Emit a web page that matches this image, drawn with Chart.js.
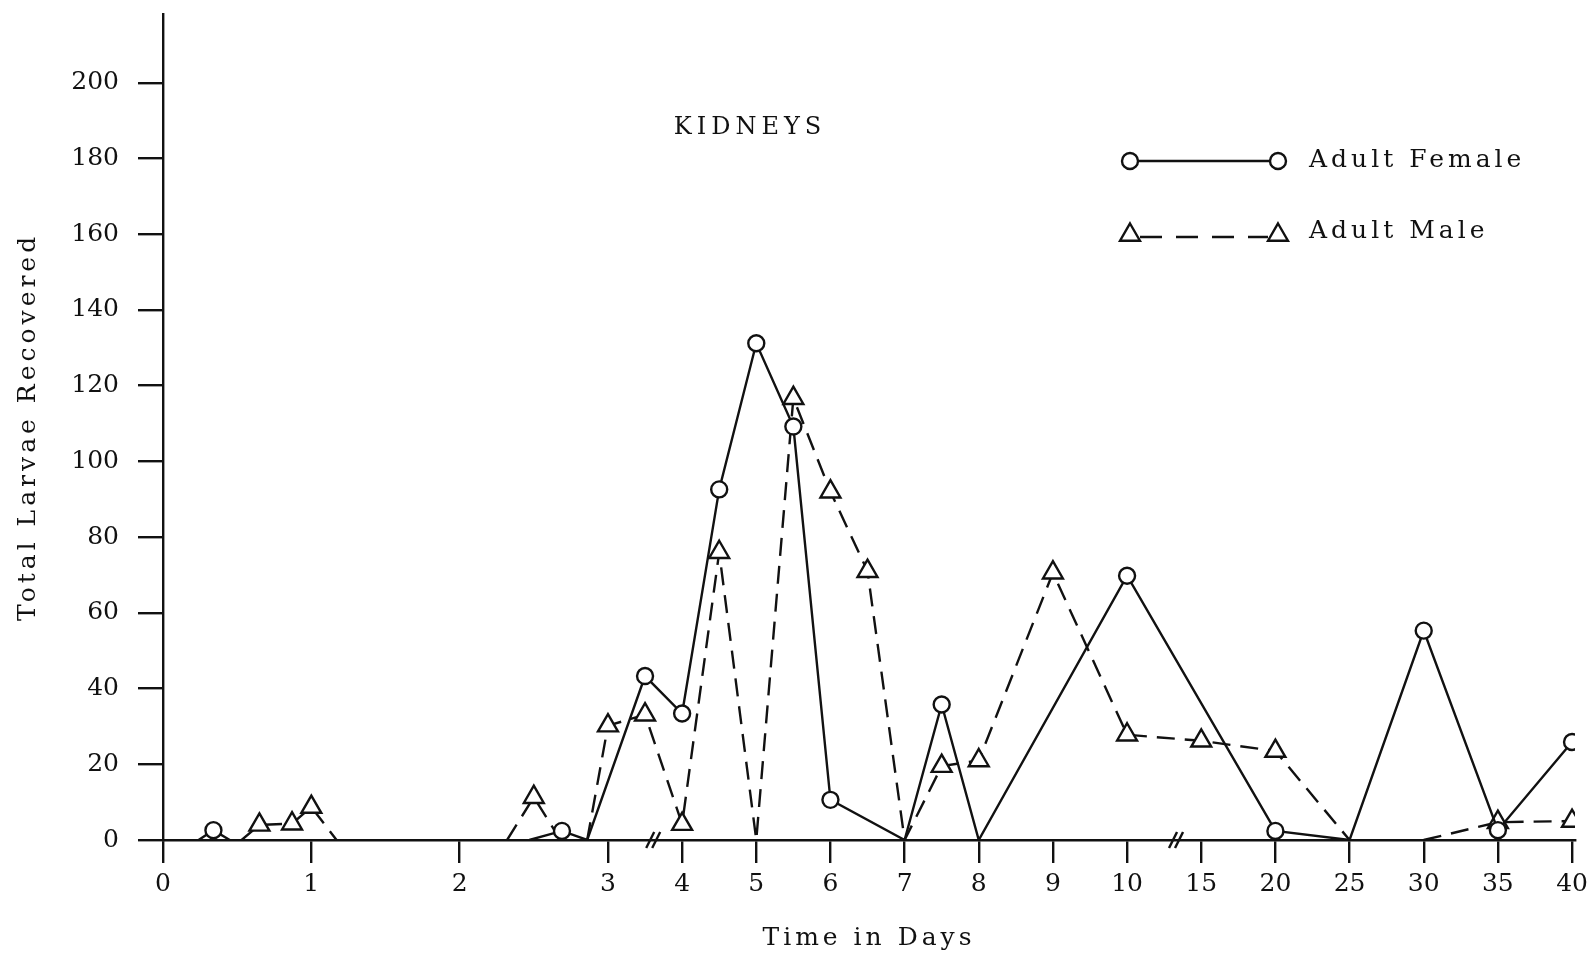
<!DOCTYPE html>
<html>
<head>
<meta charset="utf-8">
<script src="https://cdn.jsdelivr.net/npm/chart.js@4.4.1/dist/chart.umd.min.js"></script>
<style>
    html, body { margin: 0; padding: 0; background: #fff; }
    canvas { display: block; }
</style>
</head>
<body>
<canvas id="kidneyChart" width="1593" height="953"></canvas>
<script>
// x axis is broken: days 0-3 get two slots each, everything after gets one
const tickDays = [0, 1, 2, 3, 4, 5, 6, 7, 8, 9, 10, 15, 20, 25, 30, 35, 40];
const tickSlots = [0, 2, 4, 6, 7, 8, 9, 10, 11, 12, 13, 14, 15, 16, 17, 18, 19];
const yTicks = [0, 20, 40, 60, 80, 100, 120, 140, 160, 180, 200];
const breakSlots = [6.61, 13.66];

const femaleDays = [0.24, 0.34, 0.45, 2.47, 2.69, 2.86, 3.5, 4, 4.5, 5, 5.5, 6, 7, 7.5, 8, 10, 20, 25, 30, 35, 40];
const femaleCounts = [0, 2.6, 0, 0, 2.4, 0, 43.3, 33.4, 92.6, 131.2, 109.2, 10.6, 0, 35.8, 0, 69.8, 2.4, 0, 55.3, 2.6, 25.9];

const maleDays = [0.53, 0.65, 0.87, 1, 1.17, 2.32, 2.5, 2.68, 2.86, 3, 3.5, 4, 4.5, 5, 5.5, 6, 6.5, 7, 7.5, 8, 9, 10, 15, 20, 25, 30, 35, 40];
const maleCounts = [0, 4, 4.3, 8.7, 0, 0, 11.3, 0, 0, 30.2, 33.1, 4.2, 76, 0, 116.7, 92, 71, 0, 19.5, 21, 70.6, 27.8, 26.2, 23.5, 0, 0, 4.7, 5];

const ink = '#111';
const serif = '"DejaVu Serif", "Liberation Serif", serif';
const stroke = 2.4;

function dayToSlot(day) {
    for (let i = 1; i < tickDays.length; i++) {
        if (day <= tickDays[i]) {
            const f = (day - tickDays[i - 1]) / (tickDays[i] - tickDays[i - 1]);
            return tickSlots[i - 1] + f * (tickSlots[i] - tickSlots[i - 1]);
        }
    }
    return tickSlots[tickSlots.length - 1];
}

const toPoints = (days, counts) => days.map((d, i) => ({ x: dayToSlot(d), y: counts[i] }));

// zero readings are drawn without a marker, like the original
const markerSize = (size) => (c) => (c.raw && c.raw.y > 0 ? size : 0);

// runs along the baseline would just thicken the axis, so hide them
const hideBaseline = {
    borderColor: (c) => (c.p0.parsed.y === 0 && c.p1.parsed.y === 0 ? 'rgba(0,0,0,0)' : undefined)
};

const decorations = {
    id: 'decorations',
    beforeDraw(chart) {
        // typewriter-ish spacing for the axis titles only
        Object.values(chart.scales).forEach((s) => {
            if (s._spaced) return;
            const drawTitle = s.drawTitle;
            s.drawTitle = function () {
                this.ctx.letterSpacing = '4px';
                drawTitle.call(this);
                this.ctx.letterSpacing = '0px';
            };
            s._spaced = true;
        });
    },
    afterDraw(chart) {
        const c = chart.ctx;
        const xs = chart.scales.x;
        const ys = chart.scales.y;
        c.save();
        c.strokeStyle = ink;
        c.fillStyle = ink;
        c.lineWidth = stroke;

        // axis break marks
        const base = ys.getPixelForValue(0);
        breakSlots.forEach((s) => {
            const px = xs.getPixelForValue(s);
            [-3, 3].forEach((dx) => {
                c.beginPath();
                c.moveTo(px + dx - 4, base + 8);
                c.lineTo(px + dx + 4, base - 8);
                c.stroke();
            });
        });

        c.textBaseline = 'middle';
        c.textAlign = 'center';
        c.letterSpacing = '5px';
        c.font = '24px ' + serif;
        c.fillText('KIDNEYS', 750, 128);

        // legend
        c.letterSpacing = '4px';
        c.textAlign = 'left';
        c.beginPath();
        c.moveTo(1138, 161);
        c.lineTo(1270, 161);
        c.stroke();
        c.setLineDash([22, 14]);
        c.beginPath();
        c.moveTo(1140, 237);
        c.lineTo(1268, 237);
        c.stroke();
        c.setLineDash([]);
        const circle = { pointStyle: 'circle', radius: 8, rotation: 0, borderWidth: stroke };
        const tri = { pointStyle: 'triangle', radius: 11.5, rotation: 0, borderWidth: stroke };
        c.fillStyle = '#fff';
        [1130, 1278].forEach((px) => {
            Chart.helpers.drawPoint(c, circle, px, 161);
            Chart.helpers.drawPoint(c, tri, px, 235);
        });
        c.fillStyle = ink;
        c.font = '25px ' + serif;
        c.fillText('Adult Female', 1309, 160);
        c.fillText('Adult Male', 1309, 231);
        c.restore();
    }
};

const ctx = document.getElementById('kidneyChart').getContext('2d');

new Chart(ctx, {
    type: 'line',
    data: {
        datasets: [
            {
                label: 'Adult Female',
                data: toPoints(femaleDays, femaleCounts),
                borderColor: ink,
                borderWidth: stroke,
                tension: 0,
                segment: hideBaseline,
                pointStyle: 'circle',
                pointRadius: markerSize(8),
                pointBackgroundColor: '#fff',
                pointBorderColor: ink,
                pointBorderWidth: stroke
            },
            {
                label: 'Adult Male',
                data: toPoints(maleDays, maleCounts),
                borderColor: ink,
                borderWidth: stroke,
                borderDash: [18, 10],
                tension: 0,
                segment: hideBaseline,
                pointStyle: 'triangle',
                pointRadius: markerSize(11.5),
                pointBackgroundColor: '#fff',
                pointBorderColor: ink,
                pointBorderWidth: stroke
            }
        ]
    },
    options: {
        responsive: false,
        animation: false,
        devicePixelRatio: 1,
        layout: { padding: { top: 12, right: 18, bottom: 0, left: 0 } },
        plugins: {
            legend: { display: false },
            tooltip: { enabled: false }
        },
        scales: {
            x: {
                type: 'linear',
                min: 0,
                max: 19.04,
                afterBuildTicks: (s) => { s.ticks = tickSlots.map((v) => ({ value: v })); },
                afterFit: (s) => { s.height = 113; s.paddingLeft = 0; s.paddingRight = 0; },
                ticks: {
                    autoSkip: false,
                    maxRotation: 0,
                    padding: 6,
                    color: ink,
                    font: { family: serif, size: 25 },
                    callback: (v, i) => String(tickDays[i])
                },
                grid: { drawOnChartArea: false, tickLength: 23, color: ink, lineWidth: stroke },
                border: { color: ink, width: stroke },
                title: {
                    display: true,
                    text: 'Time in Days',
                    color: ink,
                    font: { family: serif, size: 25 },
                    padding: { top: 0, bottom: 0 }
                }
            },
            y: {
                type: 'linear',
                min: 0,
                max: 218.2,
                afterBuildTicks: (s) => { s.ticks = yTicks.map((v) => ({ value: v })); },
                afterFit: (s) => { s.width = 163; s.paddingTop = 0; s.paddingBottom = 0; },
                ticks: {
                    padding: 19,
                    color: ink,
                    font: { family: serif, size: 25 }
                },
                grid: { drawOnChartArea: false, tickLength: 25, color: ink, lineWidth: stroke },
                border: { color: ink, width: stroke },
                title: {
                    display: true,
                    text: 'Total Larvae Recovered',
                    color: ink,
                    font: { family: serif, size: 25 },
                    padding: { top: 13, bottom: 0 }
                }
            }
        }
    },
    plugins: [decorations]
});
</script>
</body>
</html>
